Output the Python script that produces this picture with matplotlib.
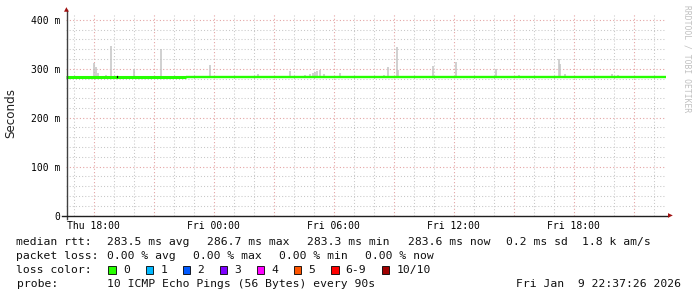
import numpy as np
import pandas as pd
import matplotlib
matplotlib.use('Agg')
import matplotlib.pyplot as plt
import matplotlib.dates as mdates
from matplotlib.patches import Rectangle
from matplotlib.ticker import MultipleLocator, FuncFormatter

# time window of the graph
t_start = pd.Timestamp('2026-01-08 16:37:26')
t_end = pd.Timestamp('2026-01-09 22:37:26')

# median rtt (seconds) - two segments
median_seg1 = ['2026-01-08 16:37', '2026-01-08 22:38']
median_val1 = 0.2822
median_seg2 = ['2026-01-08 22:38', '2026-01-09 22:37']
median_val2 = 0.2835

# smoke spikes: time and top of ping spread (seconds)
smoke_times = ['2026-01-08 18:01', '2026-01-08 18:06', '2026-01-08 18:13', '2026-01-08 18:37',
               '2026-01-08 18:52', '2026-01-08 20:01', '2026-01-08 21:22', '2026-01-08 23:50',
               '2026-01-09 02:12', '2026-01-09 03:49', '2026-01-09 04:33', '2026-01-09 04:50',
               '2026-01-09 04:59', '2026-01-09 05:05', '2026-01-09 05:11', '2026-01-09 05:20',
               '2026-01-09 05:30', '2026-01-09 06:20', '2026-01-09 08:32', '2026-01-09 08:42',
               '2026-01-09 09:09', '2026-01-09 09:14', '2026-01-09 10:57', '2026-01-09 12:06',
               '2026-01-09 14:06', '2026-01-09 15:15', '2026-01-09 17:15', '2026-01-09 17:18',
               '2026-01-09 17:33', '2026-01-09 19:56', '2026-01-09 20:14']
smoke_tops = [0.311, 0.304, 0.292, 0.287, 0.347, 0.300, 0.340, 0.308,
              0.289, 0.295, 0.287, 0.289, 0.292, 0.294, 0.295, 0.298,
              0.289, 0.292, 0.287, 0.304, 0.345, 0.297, 0.306, 0.313,
              0.299, 0.287, 0.319, 0.310, 0.289, 0.290, 0.287]

loss_labels = ['0', '1', '2', '3', '4', '5', '6-9', '10/10']
loss_colors = ['#26ff00', '#00b8ff', '#0059ff', '#7e00ff', '#ff00ff', '#ff5500', '#ff0000', '#a10000']

W, H = 697, 297
fig = plt.figure(figsize=(W / 100, H / 100), dpi=100)
fig.patch.set_facecolor('white')

def px(x, y):
    # pixel position -> figure fraction
    return x / W, 1 - y / H

ax = fig.add_axes([66 / W, (H - 215.5) / H, 600 / W, 202.5 / H])
ax.set_xlim(t_start, t_end)
ax.set_ylim(0, 0.414)

# smoke
st = pd.to_datetime(smoke_times)
ax.vlines(st, 0.2825, smoke_tops, color='#c4c4c4', lw=1.1, zorder=2)

# median line
ax.plot(pd.to_datetime(median_seg1), [median_val1] * 2, color=loss_colors[0], lw=2.2,
        solid_capstyle='butt', zorder=3)
ax.plot(pd.to_datetime(median_seg2), [median_val2] * 2, color=loss_colors[0], lw=1.7,
        solid_capstyle='butt', zorder=3)
ax.plot([pd.Timestamp('2026-01-08 19:11')] * 2, [0.2825, 0.2855], color='black', lw=0.9, zorder=4)

# grid
ax.xaxis.set_major_locator(mdates.HourLocator(byhour=range(0, 24, 3)))
ax.xaxis.set_minor_locator(mdates.HourLocator())
ax.xaxis.set_major_formatter(FuncFormatter(
    lambda v, p: mdates.num2date(v).strftime('%a %H:%M') if mdates.num2date(v).hour % 6 == 0 else ''))
ax.yaxis.set_major_locator(MultipleLocator(0.1))
ax.yaxis.set_minor_locator(MultipleLocator(0.02))
ax.yaxis.set_major_formatter(FuncFormatter(lambda v, p: '0' if v < 1e-9 else '%d m' % round(v * 1000)))

ax.grid(which='minor', color='#c8c8c8', ls=(0, (1, 2)), lw=0.75)
ax.grid(which='major', color='#e4a4a4', ls=(0, (1, 2)), lw=0.8)
ax.set_axisbelow(True)

ax.tick_params(which='both', length=0, labelsize=7, pad=4)
for lab in ax.get_xticklabels() + ax.get_yticklabels():
    lab.set_family('DejaVu Sans Mono')

for s in ['top', 'right', 'left', 'bottom']:
    ax.spines[s].set_visible(False)

# axis lines and arrows
fig.add_artist(plt.Line2D([66.5 / W, 66.5 / W], [1 - 219 / H, 1 - 10 / H], color='#404040', lw=1.0))
fig.add_artist(plt.Line2D([62 / W, 668 / W], [1 - 215.5 / H] * 2, color='#202020', lw=1.0))
fig.text(*px(66.5, 10), '\u25b2', color='#a01010', fontsize=4.5, ha='center', va='center')
fig.text(*px(670, 215.5), '\u25b6', color='#a01010', fontsize=4.5, ha='center', va='center')

fig.text(*px(11, 113), 'Seconds', rotation=90, ha='center', va='center', fontsize=8.6, color='#202020')
fig.text(*px(687, 5), 'RRDTOOL / TOBI OETIKER', rotation=270, ha='center', va='top',
         fontsize=5.8, color='#c0c0c0', family='DejaVu Sans Mono')

mono = dict(family='DejaVu Sans Mono', fontsize=8.2, color='#101010', va='baseline')

# legend lines
fig.text(*px(16.5, 245), 'median rtt:', **mono)
rtt_items = ['283.5 ms avg', '286.7 ms max', '283.3 ms min', '283.6 ms now', '0.2 ms sd', '1.8 k am/s']
for x, s in zip([107.3, 207.3, 307.3, 407.7, 506, 582], rtt_items):
    fig.text(*px(x, 245), s, **mono)

fig.text(*px(16.5, 259.3), 'packet loss:', **mono)
loss_items = ['0.00 % avg', '0.00 % max', '0.00 % min', '0.00 % now']
for x, s in zip([107.3, 193.3, 279.3, 365.3], loss_items):
    fig.text(*px(x, 259.3), s, **mono)

fig.text(*px(16.5, 273.3), 'loss color:', **mono)
box_x = [108.3, 145.7, 182.7, 219.7, 256.7, 293.7, 331, 381.7]
for x, lab, c in zip(box_x, loss_labels, loss_colors):
    fig.add_artist(Rectangle(px(x, 273.5), 7.5 / W, 8 / H, facecolor=c, edgecolor='black', lw=0.6))
    fig.text(*px(x + 14.7, 273.3), lab, **mono)

fig.text(*px(16.5, 287.3), 'probe:', **mono)
fig.text(*px(107.3, 287.3), '10 ICMP Echo Pings (56 Bytes) every 90s', **mono)
fig.text(*px(681, 287.3), 'Fri Jan  9 22:37:26 2026', ha='right', **mono)

fig.savefig('out.png', dpi=100)
